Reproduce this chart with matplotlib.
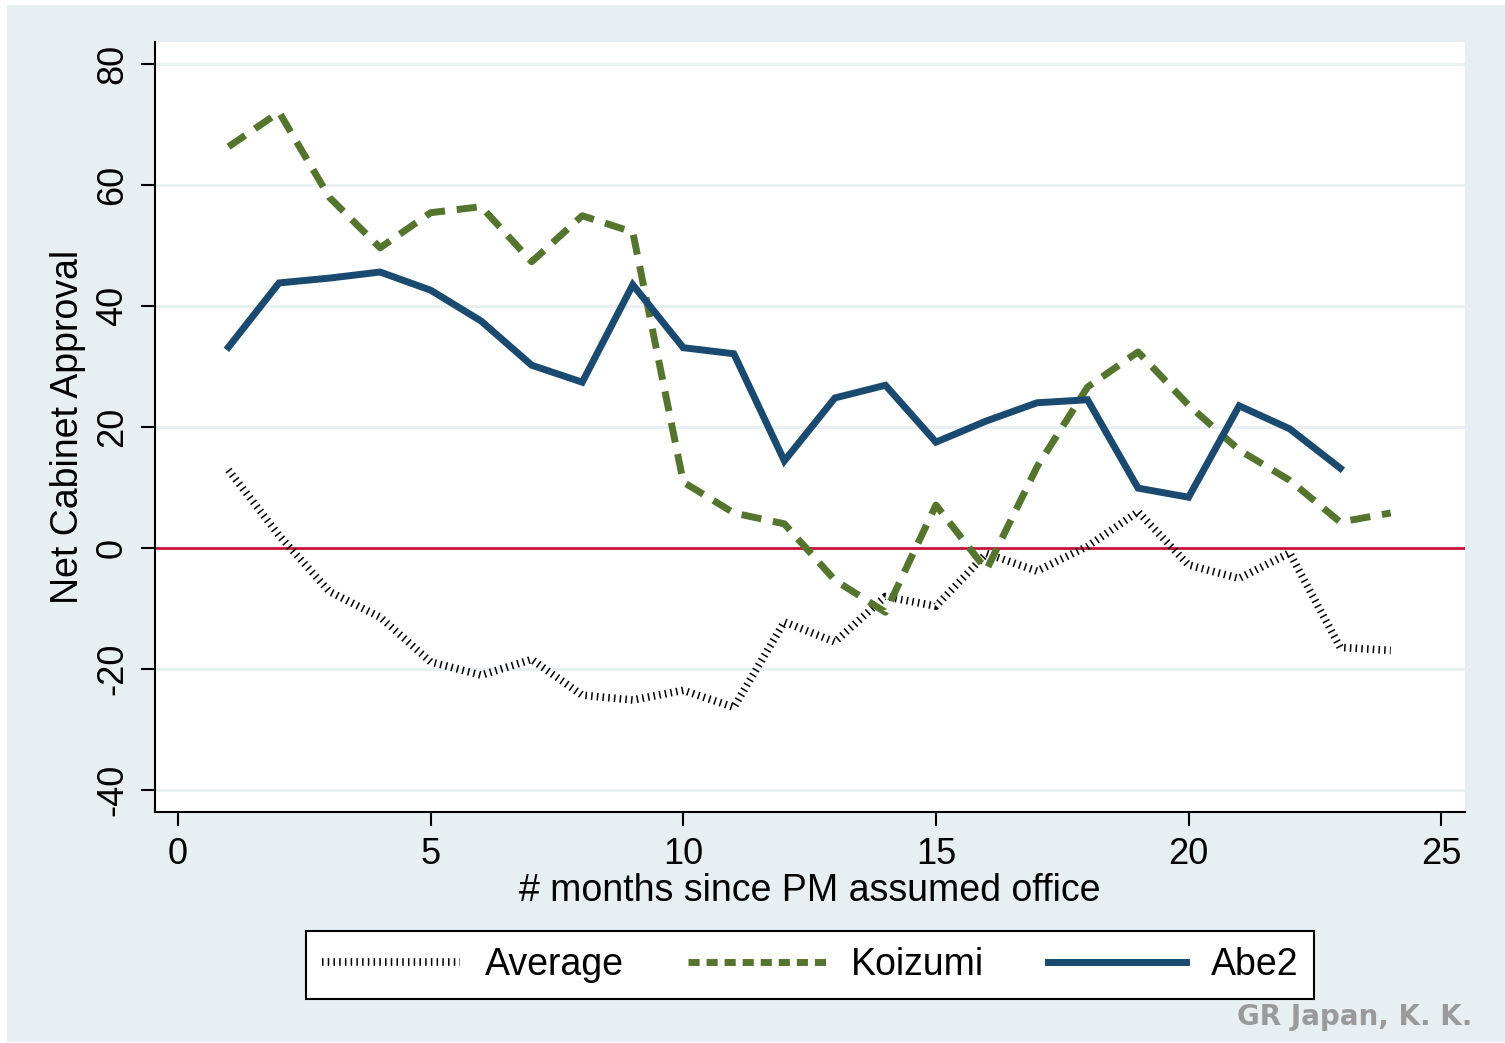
import matplotlib.pyplot as plt
from matplotlib.patches import Rectangle

# net cabinet approval by month since PM took office
months_abe = list(range(1, 24))
abe2 = [33.2, 43.8, 44.6, 45.6, 42.6, 37.5, 30.2, 27.4, 43.5, 33.1, 32.1, 14.4,
        24.8, 26.9, 17.5, 21.0, 24.0, 24.5, 9.9, 8.4, 23.5, 19.7, 13.2]

months_koi = list(range(1, 25))
koizumi = [66.3, 72.0, 57.9, 49.6, 55.4, 56.4, 47.3, 54.9, 52.2, 10.9, 5.8, 4.0,
           -5.3, -10.6, 7.1, -3.6, 13.4, 26.6, 32.4, 23.6, 16.2, 11.2, 4.3, 5.8]

months_avg = list(range(1, 25))
average = [12.9, 2.1, -7.2, -11.4, -18.8, -21.0, -18.4, -24.3, -25.1, -23.5, -26.3, -12.2,
           -15.5, -8.0, -9.6, -0.9, -3.8, 0.3, 6.0, -2.8, -5.0, -0.8, -16.4, -16.9]

bg = '#e8eff2'
green = '#55752f'
navy = '#1b4a70'

plt.rcParams['font.family'] = ['Liberation Sans', 'DejaVu Sans']

fig = plt.figure(figsize=(15.05, 10.43), dpi=100)
# light panel with a thin white margin on top and left
fig.patches.append(Rectangle((7 / 1505, 1 / 1043), 1, 1 - 6 / 1043,
                             transform=fig.transFigure, facecolor=bg, edgecolor='none', zorder=-10))

ax = fig.add_axes([155 / 1505, 1 - 812 / 1043, 1310 / 1505, 770 / 1043])
ax.set_facecolor('white')

ax.axhline(0, color='#c8143c', lw=2, zorder=2)

ax.plot(months_avg, average, color='black', lw=5.5,
        linestyle=(0, (0.2, 0.55)), dash_capstyle='butt', label='Average', zorder=3)
ax.plot(months_koi, koizumi, color=green, lw=5, linestyle=(0, (2.9, 1.7)),
        dash_capstyle='butt', label='Koizumi', zorder=4)
ax.plot(months_abe, abe2, color=navy, lw=5, solid_joinstyle='miter', label='Abe2', zorder=5)

ax.set_xlim(-0.455, 25.47)
ax.set_ylim(-43.6, 83.6)
ax.set_xticks([0, 5, 10, 15, 20, 25])
ax.set_yticks([-40, -20, 0, 20, 40, 60, 80])
ax.set_yticklabels(['-40', '-20', '0', '20', '40', '60', '80'], rotation=90, va='center')
ax.grid(axis='y', color='#e6eff1', lw=2)
ax.set_axisbelow(True)

for s in ['top', 'right']:
    ax.spines[s].set_visible(False)
for s in ['left', 'bottom']:
    ax.spines[s].set_linewidth(1.5)
ax.tick_params(length=10, width=1.5, labelsize=26, pad=8)

ax.set_xlabel('# months since PM assumed office', fontsize=27, va='center')
ax.xaxis.set_label_coords(0.5, (812 - 891) / 770)
ax.set_ylabel('Net Cabinet Approval', fontsize=27, va='center')
ax.yaxis.set_label_coords((68 - 155) / 1310, 0.5)

leg = ax.legend(loc='center', bbox_to_anchor=(810 / 1505, 1 - 965 / 1043),
                bbox_transform=fig.transFigure, ncol=3, fontsize=27,
                frameon=True, fancybox=False, edgecolor='black', framealpha=1,
                handlelength=3.7, columnspacing=1.7, borderpad=0.42, handletextpad=0.65)
leg.get_frame().set_linewidth(1.5)
# shorter, squarer dashes in the legend key like the original
leg.get_lines()[1].set_linestyle((0, (1.6, 1.0)))

fig.text(1472 / 1505, 1 - 1017 / 1043, 'GR Japan, K. K.', fontsize=20, color='#9a9a9a',
         fontweight='bold', family='DejaVu Sans', ha='right', va='center')

fig.savefig('out.png', dpi=100, facecolor='white')
